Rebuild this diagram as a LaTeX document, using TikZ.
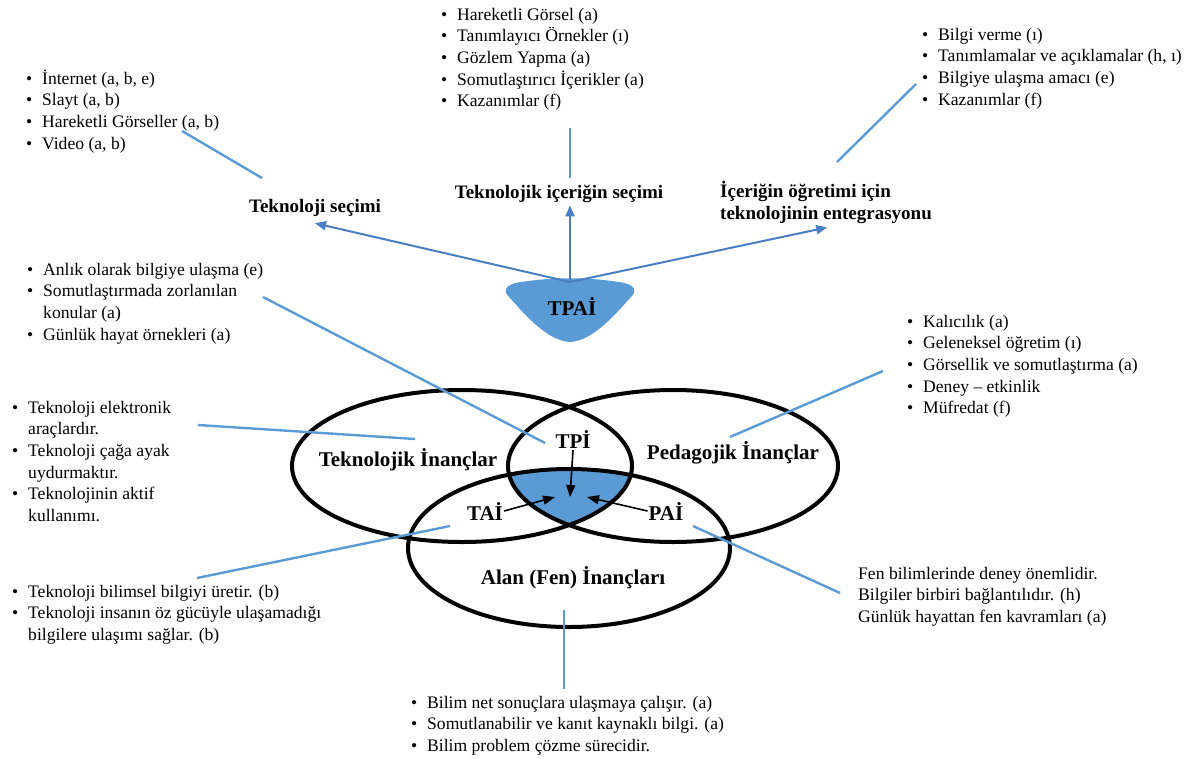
\documentclass[tikz,border=0pt]{standalone}
\usepackage{fontspec}
\setmainfont{Liberation Serif}
\usetikzlibrary{arrows.meta}

\definecolor{venblue}{HTML}{5B9BD5}
\definecolor{linkblue}{HTML}{5B9BD5}
\definecolor{arrblue}{HTML}{4A7EC2}

% bullet with a fixed hanging indent, and the matching indent for wrapped lines
\newcommand{\blt}{\makebox[16pt][l]{\textbullet}}
\newcommand{\ind}{\hspace*{16pt}}

\tikzset{
  listtext/.style={anchor=base west, inner sep=0pt, font=\fontsize{17.6}{21.7}\selectfont},
  head/.style={inner sep=0pt, font=\fontsize{19}{22}\selectfont\bfseries},
  setlabel/.style={inner sep=0pt, anchor=base, font=\fontsize{21}{24}\selectfont\bfseries},
  ring/.style={draw=black, line width=4pt},
  link/.style={draw=linkblue, line width=2.4pt},
  pick/.style={draw=arrblue, line width=2pt, -{Triangle[length=11pt,width=9pt]}},
  inarrow/.style={draw=black, line width=1.6pt, -{Triangle[length=12pt,width=9pt]}},
}

\begin{document}
\begin{tikzpicture}[x=1pt, y=-1pt]
\useasboundingbox (0,0) rectangle (1194,758);

% ---------- TPAİ badge: rounded shield pointing down ----------
\fill[venblue] (521,282) .. controls (555,277) and (585,277) .. (619,282)
  .. controls (635,284) and (638,291) .. (630,298)
  .. controls (614,316) and (592,341) .. (570,342)
  .. controls (548,341) and (526,316) .. (510,298)
  .. controls (502,291) and (505,284) .. (521,282) -- cycle;
\node[setlabel] (tpai) at (572,315) {TPAİ};
\coordinate (apex) at (570,282);

% ---------- headings above the badge ----------
\node[head, anchor=base] (ts) at (315,212) {Teknoloji seçimi};
\node[head, anchor=base] (tc) at (559,198) {Teknolojik içeriğin seçimi};
\node[head, anchor=base west] (ti) at (720,197)
  {\parbox[t]{214pt}{\raggedright İçeriğin öğretimi için\\teknolojinin entegrasyonu}};

\draw[pick] (apex) -- ([yshift=-7pt]ts.south);
\draw[pick] (apex) -- ([yshift=-3pt]apex |- tc.south);
\draw[pick] (apex) -- ([yshift=-4pt]ti.south);

% ---------- bullet lists ----------
\node[listtext] (l1) at (26,84) {\parbox[t]{330pt}{\raggedright
  \blt İnternet (a, b, e)\\
  \blt Slayt (a, b)\\
  \blt Hareketli Görseller (a, b)\\
  \blt Video (a, b)}};

\node[listtext] (l2) at (441,20) {\parbox[t]{330pt}{\raggedright
  \blt Hareketli Görsel (a)\\
  \blt Tanımlayıcı Örnekler (ı)\\
  \blt Gözlem Yapma (a)\\
  \blt Somutlaştırıcı İçerikler (a)\\
  \blt Kazanımlar (f)}};

\node[listtext] (l3) at (922,40) {\parbox[t]{280pt}{\raggedright
  \blt Bilgi verme (ı)\\
  \blt Tanımlamalar ve açıklamalar (h, ı)\\
  \blt Bilgiye ulaşma amacı (e)\\
  \blt Kazanımlar (f)}};

\node[listtext] (l4) at (27,275) {\parbox[t]{330pt}{\raggedright
  \blt Anlık olarak bilgiye ulaşma (e)\\
  \blt Somutlaştırmada zorlanılan\\
  \ind konular (a)\\
  \blt Günlük hayat örnekleri (a)}};

\node[listtext] (l5) at (12,413) {\parbox[t]{330pt}{\raggedright
  \blt Teknoloji elektronik\\
  \ind araçlardır.\\
  \blt Teknoloji çağa ayak\\
  \ind uydurmaktır.\\
  \blt Teknolojinin aktif\\
  \ind kullanımı.}};

\node[listtext] (l6) at (907,327) {\parbox[t]{280pt}{\raggedright
  \blt Kalıcılık (a)\\
  \blt Geleneksel öğretim (ı)\\
  \blt Görsellik ve somutlaştırma (a)\\
  \blt Deney – etkinlik\\
  \blt Müfredat (f)}};

\node[listtext] (l7) at (12,597) {\parbox[t]{360pt}{\raggedright
  \blt Teknoloji bilimsel bilgiyi üretir. (b)\\
  \blt Teknoloji insanın öz gücüyle ulaşamadığı\\
  \ind bilgilere ulaşımı sağlar. (b)}};

\node[listtext] (l8) at (858,579) {\parbox[t]{330pt}{\raggedright
  Fen bilimlerinde deney önemlidir.\\
  Bilgiler birbiri bağlantılıdır. (h)\\
  Günlük hayattan fen kavramları (a)}};

\node[listtext] (l9) at (411,708) {\parbox[t]{360pt}{\raggedright
  \blt Bilim net sonuçlara ulaşmaya çalışır. (a)\\
  \blt Somutlanabilir ve kanıt kaynaklı bilgi. (a)\\
  \blt Bilim problem çözme sürecidir.}};

% ---------- three belief sets ----------
\begin{scope}
  \clip (462,466) ellipse [x radius=170, y radius=76];
  \clip (673,466) ellipse [x radius=165, y radius=76];
  \fill[venblue] (569,548) ellipse [x radius=161, y radius=79];
\end{scope}
\draw[ring] (462,466) ellipse [x radius=170, y radius=76];
\draw[ring] (673,466) ellipse [x radius=165, y radius=76];
\draw[ring] (569,548) ellipse [x radius=161, y radius=79];

\node[setlabel] (tech) at (408,466) {Teknolojik İnançlar};
\node[setlabel] (peda) at (733,459) {Pedagojik İnançlar};
\node[setlabel] (alan) at (573,584) {Alan (Fen) İnançları};
\node[setlabel] (tpi) at (573,448) {TPİ};
\node[setlabel, inner sep=1pt] (tai) at (485,520) {TAİ};
\node[setlabel, inner sep=1pt] (pai) at (666,520) {PAİ};

\coordinate (coreT) at (570,497);
\coordinate (coreL) at (555,497);
\coordinate (coreR) at (587,497);
\draw[inarrow] ([yshift=-2pt]tpi.south) -- (coreT);
\draw[inarrow] (tai.east) -- (coreL);
\draw[inarrow] (pai.west) -- (coreR);

% ---------- leader lines ----------
\coordinate (a1) at (182,131); \coordinate (b1) at (262,178);
\coordinate (a2) at (570,128); \coordinate (b2) at (570,178);
\coordinate (a3) at (916,84);  \coordinate (b3) at (837,162);
\coordinate (a4) at (263,297); \coordinate (b4) at (545,443);
\coordinate (a5) at (198,425); \coordinate (b5) at (415,439);
\coordinate (a6) at (197,578); \coordinate (b6) at (450,526);
\coordinate (a7) at (693,526); \coordinate (b7) at (840,593);
\coordinate (a8) at (883,371); \coordinate (b8) at (730,437);
\coordinate (a9) at (564,610); \coordinate (b9) at (564,689);
\foreach \i in {1,...,9} { \draw[link] (a\i) -- (b\i); }

\end{tikzpicture}
\end{document}
